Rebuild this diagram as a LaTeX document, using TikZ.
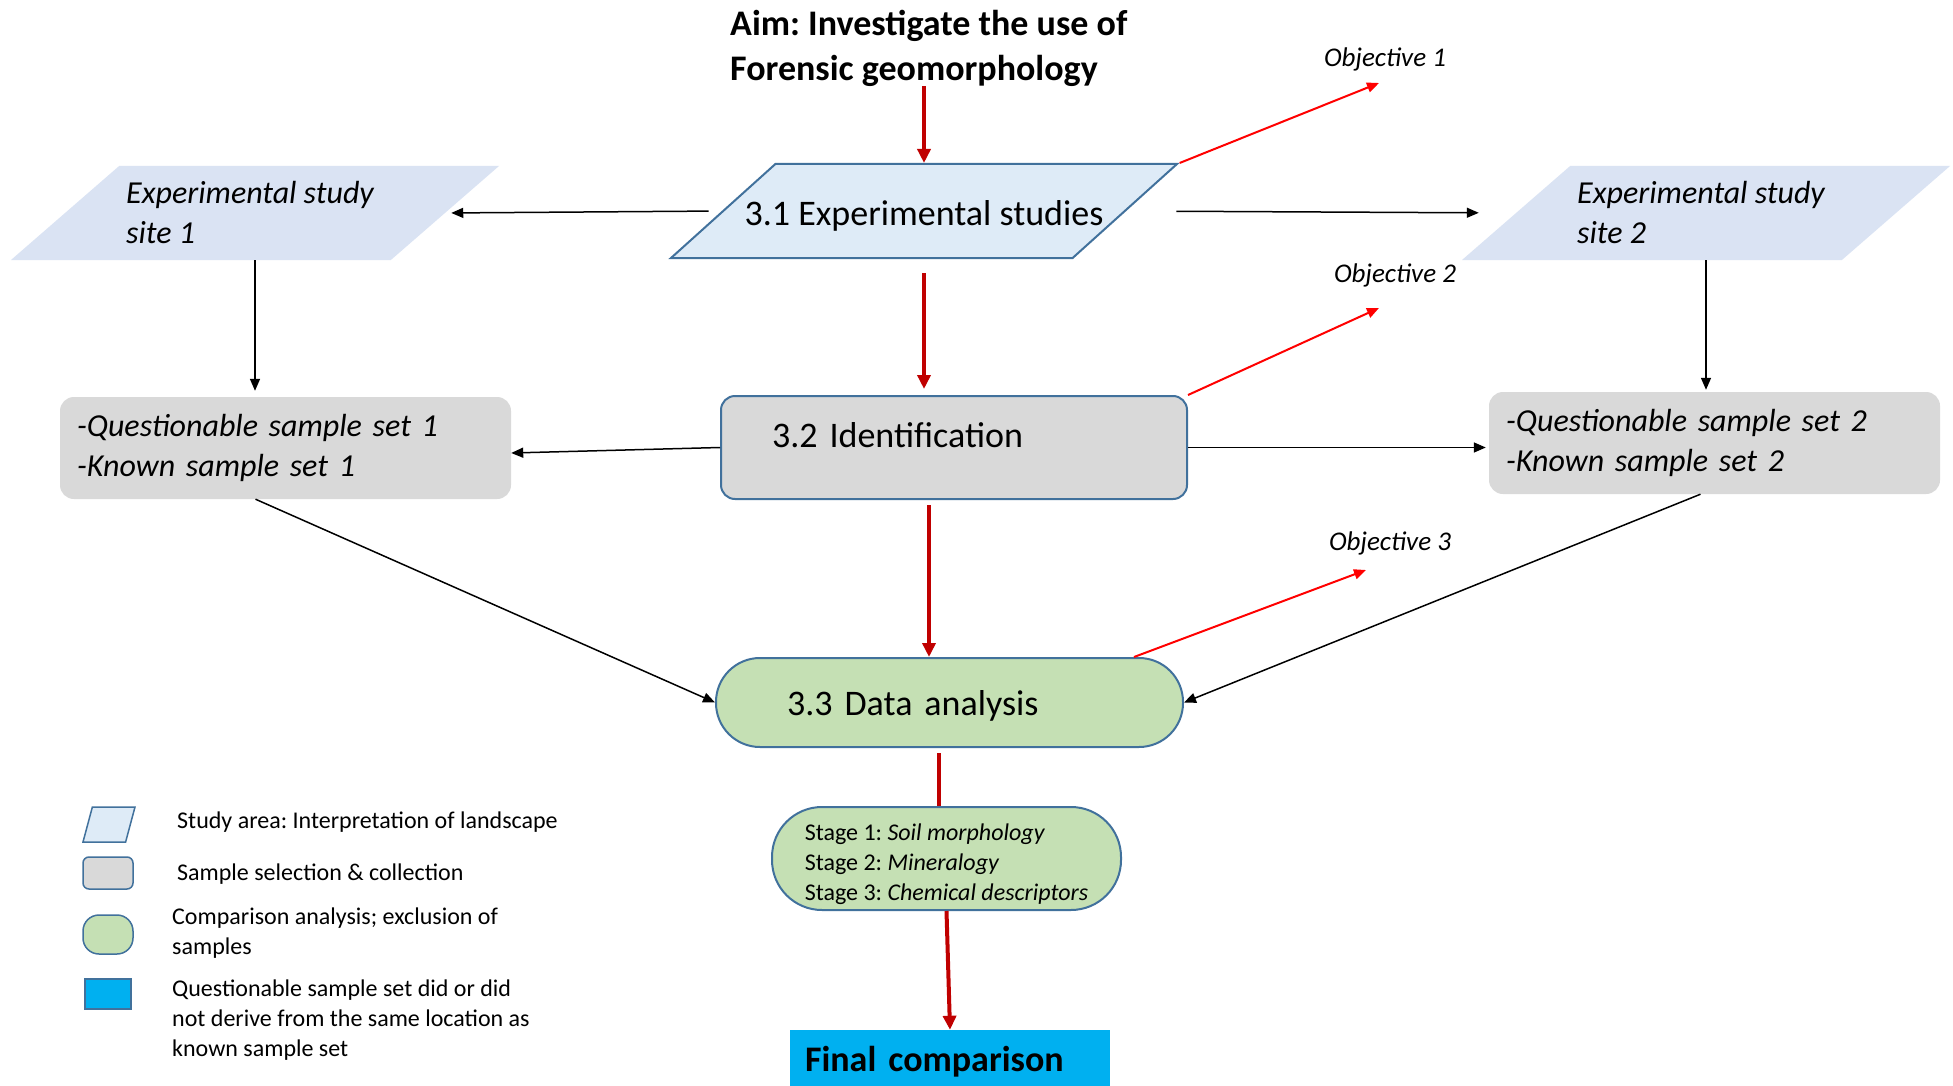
\documentclass[tikz,border=0pt]{standalone}
\usepackage{fontspec}
\setmainfont{Carlito}
\frenchspacing
\usetikzlibrary{shapes.geometric,arrows.meta,positioning}

\definecolor{fgEdge}{HTML}{41719C}
\definecolor{fgStudy}{HTML}{DEEBF7}
\definecolor{fgSite}{HTML}{DAE3F3}
\definecolor{fgSample}{HTML}{D9D9D9}
\definecolor{fgAnalysis}{HTML}{C5E0B4}
\definecolor{fgFinal}{HTML}{00B0F0}
\definecolor{fgMain}{HTML}{C00000}
\definecolor{fgObj}{HTML}{FF0000}

\begin{document}
\begin{tikzpicture}[x=1pt,y=-1pt,
    aim/.style={anchor=west,align=left,inner sep=0pt,
                font=\fontsize{36}{45}\selectfont\bfseries},
    study/.style={trapezium,trapezium left angle=42,trapezium right angle=138,
                  trapezium stretches body,draw=fgEdge,line width=2pt,fill=fgStudy,
                  inner sep=0pt,text height=94pt,text depth=0pt,minimum width=506pt},
    studytext/.style={inner sep=0pt,text height=29pt,text depth=0pt,
                      font=\fontsize{36}{43}\selectfont},
    site/.style={trapezium,trapezium left angle=41,trapezium right angle=139,
                 trapezium stretches body,fill=fgSite,
                 inner sep=0pt,text height=94pt,text depth=0pt,minimum width=488pt},
    sitetext/.style={inner sep=0pt,align=left,xshift=-5pt,
                     font=\fontsize{32}{40}\selectfont\itshape},
    sampleset/.style={rounded corners=14pt,fill=fgSample,inner sep=0pt,
                      minimum width=451pt,minimum height=102pt,
                      text width=417pt,align=left,
                      font=\fontsize{32}{40}\selectfont\itshape},
    ident/.style={rounded corners=14pt,draw=fgEdge,line width=2pt,fill=fgSample,
                  inner sep=0pt,minimum width=466pt,minimum height=103pt,
                  text width=364pt,align=left,text height=25pt,text depth=25pt,
                  font=\fontsize{36}{43}\selectfont},
    analysis/.style={rounded corners=44pt,draw=fgEdge,line width=2pt,fill=fgAnalysis,
                     inner sep=0pt,minimum width=467pt,minimum height=89pt,
                     text width=325pt,align=left,text height=26pt,text depth=0pt,
                     font=\fontsize{36}{43}\selectfont},
    stages/.style={rounded corners=50pt,draw=fgEdge,line width=2pt,fill=fgAnalysis,
                   inner sep=0pt,minimum width=349pt,minimum height=103pt,
                   align=left,font=\fontsize{24}{30}\selectfont},
    final/.style={fill=fgFinal,inner sep=0pt,minimum width=320pt,minimum height=56pt,
                  text width=290pt,align=left,text height=27pt,text depth=0pt,
                  font=\fontsize{36}{43}\selectfont\bfseries},
    objtext/.style={inner sep=0pt,font=\fontsize{27}{32}\selectfont\itshape},
    keytext/.style={anchor=west,align=left,inner sep=0pt,
                    font=\fontsize{24}{30}\selectfont},
    mainflow/.style={draw=fgMain,line width=4pt,-{Triangle[length=14pt,width=13pt]}},
    mainline/.style={draw=fgMain,line width=4pt},
    sideflow/.style={draw=black,line width=1.5pt,-{Triangle[length=12pt,width=10pt]}},
    objflow/.style={draw=fgObj,line width=2pt,-{Triangle[length=12pt,width=10pt]}}]

  \fill[white] (0,0) rectangle (1953,1086);
  \useasboundingbox (0,0) rectangle (1953,1086);

  % aim and the three steps
  \node[aim] (aim) at (730,48) {Aim: Investigate the use of\\Forensic geomorphology};
  \node[study,label={[studytext]center:3.1 Experimental studies}] (exp) at (924,211) {};
  \node[ident] (id) at (954,447.5) {3.2 Identification};
  \node[analysis] (da) at (949.5,702.5) {3.3 Data analysis};
  \node[stages] (st) at (946.5,858.5)
       {\rule{0pt}{29pt}Stage 1: \textit{Soil morphology}\\Stage 2: \textit{Mineralogy}\\Stage 3: \textit{Chemical descriptors}};
  \node[final] (fin) at (950,1058) {Final comparison};

  % the two study sites
  \node[site,label={[sitetext]center:Experimental study\\site 1}] (site1) at (255,213) {};
  \node[site,label={[sitetext]center:Experimental study\\site 2}] (site2) at (1706,213) {};
  \node[sampleset] (qs1) at (285.5,448) {-Questionable sample set 1\\-Known sample set 1};
  \node[sampleset] (qs2) at (1714.5,443) {-Questionable sample set 2\\-Known sample set 2};

  % objectives
  \coordinate (o1) at (1379,83);
  \coordinate (o2) at (1379,308);
  \coordinate (o3) at (1366,570);
  \node[objtext,above=12pt of o1,xshift=6pt] (obj1) {Objective 1};
  \node[objtext,above=21pt of o2,xshift=16pt] (obj2) {Objective 2};
  \node[objtext,above=15pt of o3,xshift=24pt] (obj3) {Objective 3};

  % main flow
  \draw[mainflow] (aim.south -| exp.north) -- (exp.north);
  \draw[mainflow,shorten <=14pt,shorten >=6pt] (exp.south) -- (exp.south |- id.north);
  \draw[mainflow,shorten <=5pt] ([xshift=-25pt]id.south) -- ([xshift=-25pt]id.south |- da.north);
  \draw[mainline,shorten <=5pt] ([xshift=-8pt]st.north |- da.south) -- ([xshift=-8pt]st.north);
  \draw[mainflow] (st.south) -- (fin.north);

  % side branches
  \draw[sideflow,shorten <=13pt,shorten >=6pt] (exp.west) -- (site1.east);
  \draw[sideflow,shorten <=50pt,shorten >=37pt] (exp.east) -- (site2.west);
  \draw[sideflow,shorten >=6pt] (site1.south) -- (site1.south |- qs1.north);
  \draw[sideflow,shorten >=2pt] (site2.south) -- (site2.south |- qs2.north);
  \draw[sideflow] (id.west) -- ([yshift=-5pt]qs1.east);
  \draw[sideflow,shorten >=3pt] (id.east) -- (id.east -| qs2.west);
  \draw[sideflow] ([xshift=-30pt]qs1.south) -- (da.west);
  \draw[sideflow] ([xshift=-14pt]qs2.south) -- (da.east);

  % objective arrows
  \draw[objflow] (exp.top right corner) -- (o1);
  \draw[objflow] (id.north east) -- (o2);
  \draw[objflow] ([xshift=-50pt]da.north east) -- (o3);

  % key
  \node[trapezium,trapezium left angle=75,trapezium right angle=105,trapezium stretches body,
        draw=fgEdge,line width=1.5pt,fill=fgStudy,inner sep=0pt,
        text height=35pt,text depth=0pt,minimum width=52pt] (keystudy) at (109,824.5) {};
  \node[rounded corners=6pt,draw=fgEdge,line width=1.5pt,fill=fgSample,
        minimum width=50pt,minimum height=32pt] (keysample) at (108,873) {};
  \node[rounded corners=16pt,draw=fgEdge,line width=1.5pt,fill=fgAnalysis,
        minimum width=50pt,minimum height=39pt] (keyanalysis) at (108,934.5) {};
  \node[draw=fgEdge,line width=1.5pt,fill=fgFinal,
        minimum width=46pt,minimum height=30pt] (keyfinal) at (108,994) {};
  \node[keytext] (keystudytext) at (177,822) {Study area: Interpretation of landscape};
  \node[keytext] (keysampletext) at (177,874) {Sample selection \& collection};
  \node[keytext] (keyanalysistext) at (172,933) {Comparison analysis; exclusion of\\samples};
  \node[keytext] (keyfinaltext) at (172,1020)
       {Questionable sample set did or did\\not derive from the same location as\\known sample set};
\end{tikzpicture}
\end{document}
